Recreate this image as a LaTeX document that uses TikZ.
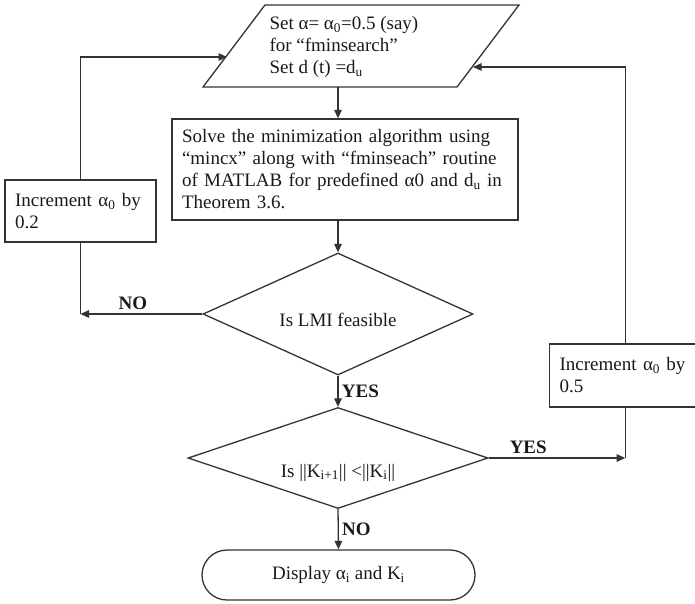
\documentclass[tikz,border=0pt]{standalone}
\usepackage{fontspec}
\setmainfont{Liberation Serif}
\usetikzlibrary{arrows.meta,shapes.geometric,shapes.misc}

\begin{document}
\begin{tikzpicture}[x=1pt,y=-1pt,>={Triangle[length=8.5pt,width=7.5pt]},
  txt/.style={font=\fontsize{19}{22}\selectfont,text=black!90},
  lbl/.style={font=\fontsize{19}{22}\selectfont\bfseries,text=black!90},
  flow/.style={draw=black!80,line width=1.3pt},
  procbox/.style={txt,flow,rectangle,align=left,inner xsep=10pt,inner ysep=0pt},
  decide/.style={txt,flow,diamond,inner sep=0pt,aspect=2.2},
  stopbox/.style={txt,flow,rounded rectangle,inner sep=0pt}]
  \useasboundingbox (0,0) rectangle (695,603);

  % input block (parallelogram)
  \draw[flow] (265,5) -- (519,5) -- (457,87) -- (203,87) -- cycle;
  \node[txt,align=left,anchor=west] (setp) at (266,47)
    {Set α= α\textsubscript{0}=0.5 (say)\\for “fminsearch”\\Set d (t) =d\textsubscript{u}};
  \coordinate (pbot) at (338,87);
  \coordinate (pin) at (227,57);
  \coordinate (pout) at (473,67);

  % main column
  \node[procbox,minimum width=346pt,minimum height=101pt,text width=326pt] (solve) at (345,169.5)
    {Solve the minimization algorithm using\\“mincx” along with “fminseach” routine\\of MATLAB for predefined α0 and d\textsubscript{u} in\\Theorem 3.6.};
  % text sits a little below the middle of each diamond
  \node[decide,minimum width=270pt,minimum height=122pt,text height=29pt,text depth=4pt] (lmi) at (338,314)
    {Is LMI feasible\hspace{8pt}};
  \node[decide,minimum width=300pt,minimum height=101pt,text height=43pt,text depth=5pt] (norm) at (338,458)
    {Is ||K\textsubscript{i+1}|| <||K\textsubscript{i}||\hspace{26pt}};
  \node[stopbox,minimum width=273pt,minimum height=50pt] (show) at (338.5,575)
    {Display α\textsubscript{i} and K\textsubscript{i}\hspace{28pt}};

  % side boxes
  \node[procbox,minimum width=151pt,minimum height=62pt,text width=131pt] (incl) at (80.5,211)
    {Increment α\textsubscript{0} by\\0.2};
  \node[procbox,minimum width=151pt,minimum height=63pt,text width=131pt,anchor=west] (incr) at (549,375.5)
    {Increment α\textsubscript{0} by\\0.5};

  % connectors
  \draw[flow,->] (pbot) -- (pbot |- solve.north);
  \draw[flow,->] (solve.south -| lmi.north) -- (lmi.north);
  \draw[flow,->] (lmi.south) -- node[lbl,right] {YES} (norm.north);
  \draw[flow,->] (norm.south) -- node[lbl,right] {NO} (show.north);

  \coordinate (lno) at (lmi.west -| incl.south);
  \draw[flow,->] (lmi.west) -- node[lbl,above,pos=0.57] {NO} (lno);
  \draw[flow] (incl.south) -- (lno);
  \draw[flow,->] (incl.north) |- (pin);

  \coordinate (ryes) at (norm.east -| incr.south);
  \draw[flow,->] (norm.east) -- node[lbl,above,pos=0.29] {YES} (ryes);
  \draw[flow] (incr.south) -- (ryes);
  \draw[flow,->] (incr.north) |- (pout);
\end{tikzpicture}
\end{document}
